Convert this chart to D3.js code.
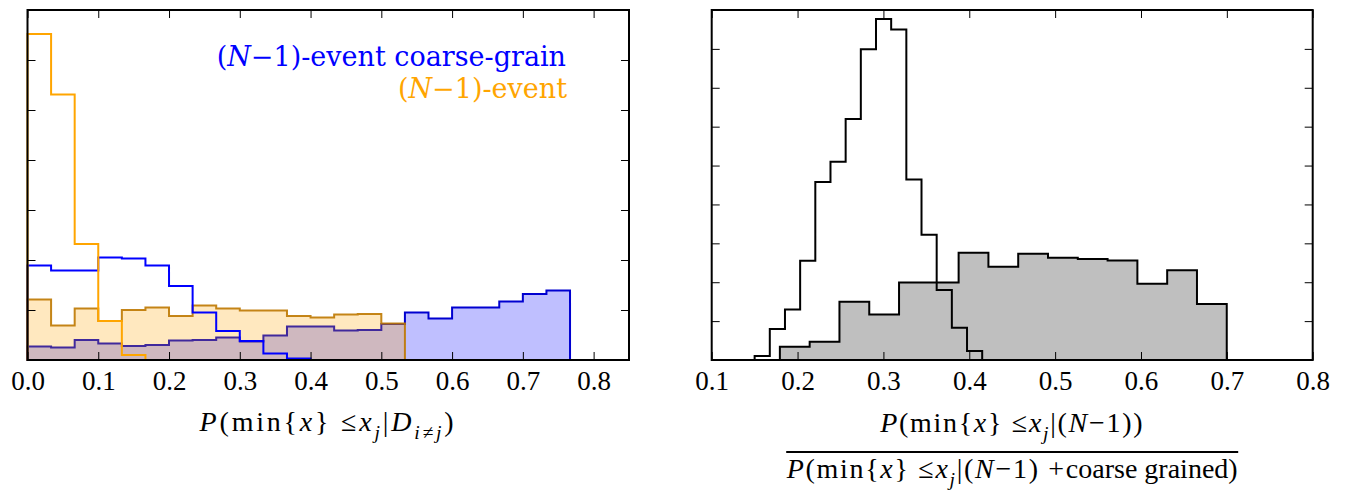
<!DOCTYPE html>
<html>
<head>
<meta charset="utf-8">
<script src="https://cdn.jsdelivr.net/npm/d3@7"></script>
<style>
body { margin: 0; background: #fff; }
svg text.tk, svg .tick text { font-family: "Liberation Serif", "Times New Roman", serif !important; }
svg text.lg { font-family: "DejaVu Serif", serif !important; }
</style>
</head>
<body>
<svg id="chart" width="1356" height="493"></svg>
<script>
// left panel: bins of width 1/30 starting at 0
var left_bin_start = 0, left_bin_width = 1/30;
var blue_filled = [0.27, 0.25, 0.40, 0.33, 0.28, 0.30, 0.39, 0.40, 0.45, 0.37, 0.49, 0.67,
                   0.67, 0.59, 0.60, 0.72, 0.95, 0.83, 1.05, 1.05, 1.17, 1.32, 1.39];
var orange_filled = [1.21, 0.69, 1.03, 0.78, 1.00, 1.05, 0.88, 1.09, 1.03, 0.99, 0.99, 0.88,
                     0.85, 0.91, 0.92, 0.73];
var blue_line = [1.89, 1.79, 1.79, 2.05, 2.03, 1.89, 1.48, 0.95, 0.58, 0.38, 0.13, 0.03];
var orange_line = [6.52, 5.31, 2.32, 0.78, 0.10];
var left_ticks_x = [0, 0.1, 0.2, 0.3, 0.4, 0.5, 0.6, 0.7, 0.8];
var left_ticks_y = [1, 2, 3, 4, 5, 6, 7];

// right panel
var ratio_bin_start = 0.150, ratio_bin_width = 0.01767;
var ratio_line = [0.10, 0.80, 1.30, 2.55, 4.58, 5.10, 6.20, 7.99, 8.77, 8.50, 4.64, 3.22, 1.80, 0.83, 0.23];
var gray_bin_start = 0.1794, gray_bin_width = 0.0347;
var gray_filled = [0.34, 0.47, 1.50, 1.17, 1.99, 1.99, 2.76, 2.40, 2.73, 2.63, 2.60, 2.56, 1.96, 2.31, 1.44];
var right_ticks_x = [0.1, 0.2, 0.3, 0.4, 0.5, 0.6, 0.7, 0.8];
var right_ticks_y = [1, 2, 3, 4, 5, 6, 7, 8];

var svg = d3.select("#chart");
var top_y = 10, bottom_y = 360;

// builds the step outline of a histogram as in matplotlib's "step" type
function stepPoints(start, width, vals){
    var pts = [[start, 0]];
    vals.forEach(function(v, i){
        pts.push([start + i*width, v]);
        pts.push([start + (i+1)*width, v]);
    });
    pts.push([start + vals.length*width, 0]);
    return pts;
}

function drawFrame(g, x, y, tx, ty, fmt){
    var x0 = x.range()[0], x1 = x.range()[1];
    var ax = g.append("g").attr("transform", "translate(0," + bottom_y + ")")
        .call(d3.axisBottom(x).tickValues(tx).tickSize(-8).tickPadding(11).tickFormat(fmt));
    styleAxis(ax);
    ax.selectAll(".tick text")
        .attr("class", "tk")
        .attr("fill", "#000")
        .style("font-size", "27px");
    styleAxis(g.append("g").attr("transform", "translate(0," + top_y + ")")
        .call(d3.axisTop(x).tickValues(tx).tickSize(-8).tickFormat("")));
    styleAxis(g.append("g").attr("transform", "translate(" + x0 + ",0)")
        .call(d3.axisLeft(y).tickValues(ty).tickSize(-8).tickFormat("")));
    styleAxis(g.append("g").attr("transform", "translate(" + x1 + ",0)")
        .call(d3.axisRight(y).tickValues(ty).tickSize(-8).tickFormat("")));
    g.append("rect")
        .attr("x", x0).attr("y", top_y)
        .attr("width", x1 - x0).attr("height", bottom_y - top_y)
        .attr("fill", "none").attr("stroke", "#000").attr("stroke-width", 2);
}

function styleAxis(sel){
    sel.select(".domain").remove();
    sel.attr("font-family", null);
    sel.selectAll(".tick line").attr("stroke", "#000").attr("stroke-width", 1);
}

// text with italic / subscript pieces, math pieces get a bit of extra spacing
function mathText(g, x, y, parts, size, color, anchor, cls, spacing){
    var t = g.append("text")
        .attr("class", cls || "tk")
        .attr("x", x).attr("y", y)
        .attr("text-anchor", anchor || "middle")
        .style("font-size", size + "px")
        .attr("fill", color || "#000");
    var shift = 0;
    parts.forEach(function(p){
        var s = t.append("tspan").text(p.t);
        if(p.i) s.style("font-style", "italic");
        if(spacing && !p.txt) s.style("letter-spacing", spacing + "px");
        var want = p.sub ? size*0.3 : 0;
        if(want != shift){ s.attr("dy", want - shift); shift = want; }
        if(p.sub) s.style("font-size", (size*0.7) + "px");
    });
    return t;
}

// ---------- left panel ----------
var xL = d3.scaleLinear().domain([0, 0.85]).range([27.5, 629]);
var yL = d3.scaleLinear().domain([0, 7]).range([bottom_y, top_y]);
var lineL = d3.line().x(function(d){ return xL(d[0]); }).y(function(d){ return yL(d[1]); });
var gL = svg.append("g");

gL.append("path").attr("d", lineL(stepPoints(left_bin_start, left_bin_width, blue_filled)) + "Z")
    .attr("fill", "rgba(0,0,255,0.25)").attr("stroke", "#0000d0").attr("stroke-width", 2);
gL.append("path").attr("d", lineL(stepPoints(left_bin_start, left_bin_width, orange_filled)) + "Z")
    .attr("fill", "rgba(255,165,0,0.25)").attr("stroke", "rgba(190,120,0,0.9)").attr("stroke-width", 2);
gL.append("path").attr("d", lineL(stepPoints(left_bin_start, left_bin_width, blue_line)))
    .attr("fill", "none").attr("stroke", "#0000ff").attr("stroke-width", 2);
gL.append("path").attr("d", lineL(stepPoints(left_bin_start, left_bin_width, orange_line)))
    .attr("fill", "none").attr("stroke", "#ffa500").attr("stroke-width", 2);

drawFrame(gL, xL, yL, left_ticks_x, left_ticks_y, d3.format(".1f"));

mathText(gL, 566, 66, [{t:"("}, {t:"N", i:true}, {t:"−1)-event coarse-grain"}], 27, "#0000ff", "end", "lg");
mathText(gL, 567, 98, [{t:"("}, {t:"N", i:true}, {t:"−1)-event"}], 27, "#ffa500", "end", "lg");

mathText(gL, 328, 431, [
    {t:"P", i:true}, {t:"(min{"}, {t:"x", i:true}, {t:"} ≤"}, {t:"x", i:true},
    {t:"j", i:true, sub:true}, {t:"|"}, {t:"D", i:true}, {t:"i≠j", i:true, sub:true}, {t:")"}
], 28, "#000", "middle", "tk", 2.8);

// ---------- right panel ----------
var xR = d3.scaleLinear().domain([0.1, 0.8]).range([711.7, 1312.7]);
var yR = d3.scaleLinear().domain([0, 9]).range([bottom_y, top_y]);
var lineR = d3.line().x(function(d){ return xR(d[0]); }).y(function(d){ return yR(d[1]); });
var gR = svg.append("g");

gR.append("path").attr("d", lineR(stepPoints(gray_bin_start, gray_bin_width, gray_filled)) + "Z")
    .attr("fill", "#bfbfbf").attr("stroke", "#000").attr("stroke-width", 2);
gR.append("path").attr("d", lineR(stepPoints(ratio_bin_start, ratio_bin_width, ratio_line)))
    .attr("fill", "none").attr("stroke", "#000").attr("stroke-width", 2);

drawFrame(gR, xR, yR, right_ticks_x, right_ticks_y, d3.format(".1f"));

var cx = (711.7 + 1312.7)/2;
mathText(gR, cx, 432, [
    {t:"P", i:true}, {t:"(min{"}, {t:"x", i:true}, {t:"} ≤"}, {t:"x", i:true},
    {t:"j", i:true, sub:true}, {t:"|("}, {t:"N", i:true}, {t:"−1))"}
], 28, "#000", "middle", "tk", 1.7);
gR.append("line").attr("x1", cx - 226).attr("x2", cx + 226)
    .attr("y1", 452).attr("y2", 452).attr("stroke", "#000").attr("stroke-width", 2);
mathText(gR, cx, 478, [
    {t:"P", i:true}, {t:"(min{"}, {t:"x", i:true}, {t:"} ≤"}, {t:"x", i:true},
    {t:"j", i:true, sub:true}, {t:"|("}, {t:"N", i:true}, {t:"−1) +"}, {t:"coarse grained)", txt:true}
], 28, "#000", "middle", "tk", 1.7);
</script>
</body>
</html>
